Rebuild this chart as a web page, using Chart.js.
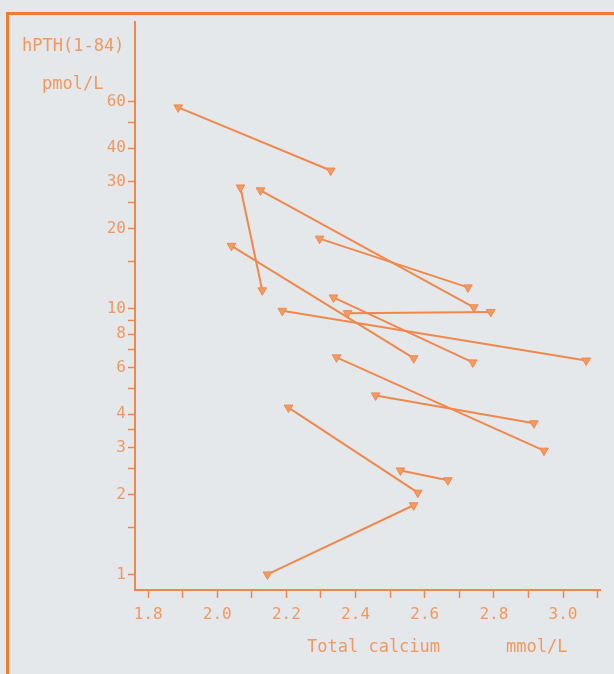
<!DOCTYPE html>
<html>
<head>
<meta charset="utf-8">
<script src="https://cdn.jsdelivr.net/npm/chart.js@4.4.1/dist/chart.umd.min.js"></script>
<style>
  html, body { margin: 0; padding: 0; background: #e4e8eb; }
  #wrap { position: relative; width: 614px; height: 674px; overflow: hidden; }
  #frame {
    position: absolute; left: 6px; top: 12px; right: -10px; bottom: -10px;
    border-left: 3px solid #f47a32; border-top: 3px solid #f47a32;
  }
  canvas { position: absolute; left: 0; top: 0; }
</style>
</head>
<body>
<div id="wrap">
  <div id="frame"></div>
  <canvas id="c" width="614" height="674"></canvas>
</div>
<script>
// Paired measurements per patient: total calcium (mmol/L) and hPTH(1-84) (pmol/L)
const calciumStart = [1.887, 2.067, 2.125, 2.296, 2.041, 2.336, 2.188, 2.377, 2.345, 2.458, 2.206, 2.530, 2.145];
const pthStart     = [57,    28.5,  27.8,  18.3,  17.2,  11.0,  9.8,   9.6,   6.55,  4.71,  4.24,  2.46,  1.0];
const calciumEnd   = [2.328, 2.130, 2.742, 2.725, 2.568, 2.739, 3.067, 2.791, 2.945, 2.916, 2.580, 2.667, 2.568];
const pthEnd       = [33,    11.7,  10.1,  12.0,  6.5,   6.27,  6.37,  9.7,   2.92,  3.70,  2.03,  2.26,  1.82];

// Axis ticks
const xTickValues = [1.8, 1.9, 2.0, 2.1, 2.2, 2.3, 2.4, 2.5, 2.6, 2.7, 2.8, 2.9, 3.0, 3.1];
const xTickLabels = ['1.8', '2.0', '2.2', '2.4', '2.6', '2.8', '3.0'];
const yTickValues = [1, 1.5, 2, 2.5, 3, 3.5, 4, 5, 6, 7, 8, 9, 10, 15, 20, 25, 30, 40, 50, 60];
const yTickLabels = [1, 2, 3, 4, 6, 8, 10, 20, 30, 40, 60];

const ORANGE = '#f0884c';
const TEXT = '#f2985f';
const FONT = '"DejaVu Sans Mono", "Liberation Mono", monospace';

const datasets = calciumStart.map((x0, i) => ({
  data: [{ x: x0, y: pthStart[i] }, { x: calciumEnd[i], y: pthEnd[i] }],
  showLine: true,
  borderColor: ORANGE,
  borderWidth: 2,
  pointStyle: 'triangle',
  rotation: 180,
  pointRadius: 5,
  pointBackgroundColor: '#f39a62',
  pointBorderColor: ORANGE,
  pointBorderWidth: 1
}));

const axisLabels = {
  id: 'axisLabels',
  afterDraw(chart) {
    const ctx = chart.ctx;
    ctx.save();
    ctx.font = '17px ' + FONT;
    ctx.fillStyle = TEXT;
    ctx.textAlign = 'left';
    ctx.textBaseline = 'middle';
    ctx.fillText('hPTH(1-84)', 22, 47);
    ctx.fillText('pmol/L', 42, 85);
    ctx.fillText('Total calcium', 307, 648);
    ctx.fillText('mmol/L', 506, 648);
    ctx.restore();
  }
};

new Chart(document.getElementById('c'), {
  type: 'scatter',
  data: { datasets },
  plugins: [axisLabels],
  options: {
    responsive: false,
    animation: false,
    layout: { padding: { left: 0, top: 22, right: 14, bottom: 0 } },
    plugins: { legend: { display: false }, tooltip: { enabled: false } },
    scales: {
      x: {
        type: 'linear',
        min: 1.762,
        max: 3.107,
        afterBuildTicks(scale) { scale.ticks = xTickValues.map(v => ({ value: v })); },
        afterFit(scale) { scale.height = 84; },
        ticks: {
          autoSkip: false,
          maxRotation: 0,
          padding: 7,
          color: TEXT,
          font: { family: FONT, size: 16 },
          callback(v) {
            const s = v.toFixed(1);
            return xTickLabels.includes(s) ? s : '';
          }
        },
        grid: { drawOnChartArea: false, drawTicks: true, tickLength: 8, tickWidth: 1.5, tickColor: ORANGE },
        border: { display: true, color: ORANGE, width: 2 }
      },
      y: {
        type: 'logarithmic',
        min: 0.874,
        max: 119.4,
        afterBuildTicks(scale) { scale.ticks = yTickValues.map(v => ({ value: v })); },
        afterFit(scale) { scale.width = 135; },
        ticks: {
          autoSkip: false,
          padding: 2,
          color: TEXT,
          font: { family: FONT, size: 16 },
          callback(v) { return yTickLabels.includes(v) ? String(v) : ''; }
        },
        grid: { drawOnChartArea: false, drawTicks: true, tickLength: 7, tickWidth: 1.5, tickColor: ORANGE },
        border: { display: true, color: ORANGE, width: 2 }
      }
    }
  }
});
</script>
</body>
</html>
